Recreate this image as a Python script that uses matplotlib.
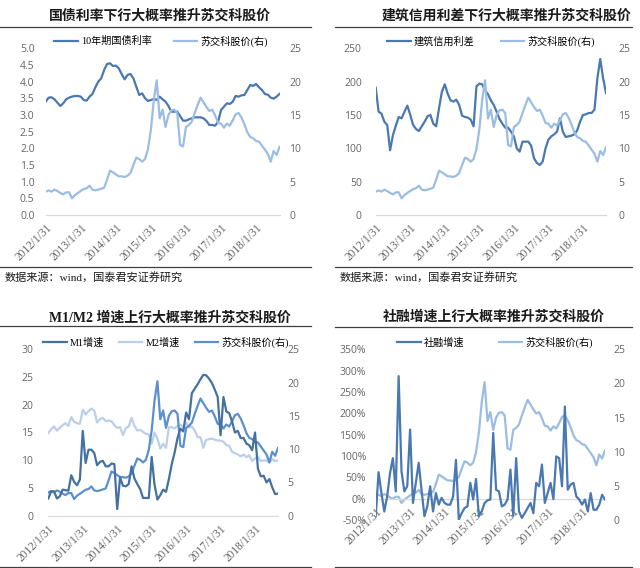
import matplotlib
matplotlib.use("Agg")
import matplotlib.pyplot as plt
from matplotlib.lines import Line2D
from matplotlib.font_manager import FontProperties

# ---- data (monthly, 2012/1 .. 2018/9) ----
tick_pos = [0, 12, 24, 36, 48, 60, 72]
tick_labels = ["2012/1/31", "2013/1/31", "2014/1/31", "2015/1/31",
               "2016/1/31", "2017/1/31", "2018/1/31"]

stock = [3.5, 3.7, 3.5, 3.8, 3.6, 3.3, 3.1, 3.4, 3.4, 2.5,
         3.0, 3.3, 3.6, 3.9, 4.0, 4.4, 3.8, 3.7, 3.8, 3.95,
         4.1, 5.3, 6.65, 6.4, 6.1, 5.8, 5.8, 5.7, 5.9, 6.3,
         7.5, 8.6, 8.4, 8.0, 8.4, 9.9, 12.8, 17.3, 20.2, 14.5,
         15.8, 13.2, 15.0, 15.7, 15.8, 15.3, 10.5, 10.3, 13.2, 13.5,
         14.0, 15.3, 16.5, 17.6, 16.9, 16.2, 15.6, 15.8, 14.9, 13.8,
         13.7, 13.1, 13.7, 13.4, 14.2, 15.1, 15.3, 14.6, 13.6, 12.4,
         11.7, 11.5, 11.1, 11.0, 10.4, 9.8, 9.2, 8.0, 9.6, 9.0, 10.2]

bond10y = [3.4, 3.52, 3.53, 3.47, 3.37, 3.27, 3.35, 3.47, 3.52, 3.55,
           3.57, 3.57, 3.55, 3.45, 3.43, 3.55, 3.63, 3.83, 4.0, 4.1,
           4.35, 4.53, 4.55, 4.47, 4.48, 4.4, 4.23, 4.07, 4.2, 4.23,
           4.1, 3.85, 3.6, 3.65, 3.5, 3.42, 3.45, 3.48, 3.45, 3.55,
           3.47, 3.4, 3.27, 3.1, 3.1, 3.1, 2.97, 2.83, 2.83, 2.87,
           2.9, 2.93, 2.93, 2.93, 2.9, 2.82, 2.7, 2.7, 2.68, 2.8,
           3.15, 3.25, 3.35, 3.33, 3.4, 3.57, 3.55, 3.59, 3.6, 3.75,
           3.9, 3.87, 3.93, 3.83, 3.75, 3.63, 3.61, 3.52, 3.49, 3.55, 3.63]

spread = [191, 155, 152, 140, 135, 97, 120, 134, 147, 145,
          155, 164, 150, 135, 129, 126, 133, 140, 148, 150,
          137, 133, 160, 185, 196, 182, 172, 170, 173, 165,
          149, 147, 146, 143, 133, 193, 197, 196, 187, 181,
          172, 165, 155, 144, 137, 131, 131, 125, 118, 100,
          95, 110, 110, 110, 104, 85, 78, 75, 80, 100,
          113, 118, 121, 125, 145, 125, 117, 118, 119, 121,
          127, 140, 150, 151, 153, 153, 158, 205, 234, 205, 183]

m1 = [3.1, 4.4, 4.4, 3.1, 3.5, 4.7, 4.6, 4.5, 7.3, 6.1, 5.5, 6.5,
      15.3, 9.5, 11.9, 11.9, 11.3, 9.1, 9.7, 9.9, 8.9, 8.9, 9.4, 9.3,
      1.2, 6.9, 5.4, 5.3, 5.7, 8.9, 6.7, 5.7, 4.8, 3.2, 3.2, 3.2,
      10.6, 5.6, 2.9, 3.7, 4.7, 4.3, 6.6, 9.3, 11.4, 14.0, 15.7, 15.2,
      18.6, 17.4, 22.1, 22.9, 23.7, 24.6, 25.4, 25.3, 24.7, 23.9, 22.7, 21.4,
      14.5, 21.4, 18.8, 18.5, 17.0, 15.0, 15.3, 14.0, 14.0, 13.0, 12.7, 11.8,
      15.0, 8.5, 7.1, 7.2, 6.0, 6.6, 5.1, 3.9, 4.0]

m2 = [12.4, 13.0, 13.4, 12.8, 13.2, 13.6, 13.9, 13.5, 14.8, 14.1, 13.9, 13.8,
      15.9, 15.2, 15.7, 16.1, 15.8, 14.0, 14.5, 14.7, 14.2, 14.3, 14.2, 13.6,
      13.2, 13.3, 12.1, 13.2, 13.4, 14.7, 13.5, 12.8, 12.9, 12.6, 12.3, 12.2,
      10.8, 12.5, 11.6, 10.1, 10.8, 10.2, 13.3, 13.3, 13.1, 13.5, 13.7, 13.3,
      14.0, 13.3, 13.4, 12.8, 11.8, 11.8, 10.2, 11.4, 11.5, 11.6, 11.4, 11.3,
      11.3, 11.1, 10.6, 10.5, 9.6, 9.4, 9.2, 8.9, 9.2, 8.8, 9.1, 8.2,
      8.6, 8.8, 8.2, 8.3, 8.3, 8.0, 8.5, 8.2, 8.3]

tsf = [-41, 62, 13, -30, 5, 60, 95, 17, 287, 64,
       17, 29, 162, -10, 37, 84, 20, -41, -18, 29,
       -30, 13, -14, 2, -10, -14, -14, 5, 91, -49,
       -34, -22, -18, 37, -2, 46, -41, -30, -10, -4,
       -2, 154, 21, 17, -18, -14, -2, 68, -40, 95,
       -30, -45, -34, -22, -10, -34, 37, 29, 80, -10,
       13, 37, -1, 99, 95, 29, 216, 21, 33, 37,
       5, -2, -14, -2, -30, 13, -26, -26, -14, 9, -2]

x = list(range(len(stock)))

W, H = 640, 568
DARK = "#4a78b0"
LIGHT = "#9bbde3"
M1C = "#44719f"
M2C = "#bccfea"
MIDC = "#5b8fcf"
TICKC = "#666666"
CJK = ["Liberation Serif", "Noto Sans CJK SC"]
NUMFONT = "Open Sans"

fig = plt.figure(figsize=(W / 100, H / 100), dpi=100)
fig.patch.set_facecolor("white")


def px_axes(left, top, right, bottom):
    return fig.add_axes([left / W, 1 - bottom / H, (right - left) / W, (bottom - top) / H])


def rule(x0, x1, y):
    fig.add_artist(Line2D([x0 / W, x1 / W], [1 - y / H, 1 - y / H],
                          color="#404040", lw=0.9))


def style(ax, ax2, lpad, rpad, zero_axis=False):
    for a in (ax, ax2):
        for s in a.spines.values():
            s.set_visible(False)
    ax.spines["bottom"].set_visible(True)
    ax.spines["bottom"].set_color("#d9d9d9")
    ax.spines["bottom"].set_linewidth(0.9)
    if zero_axis:
        ax.spines["bottom"].set_position(("data", 0))
    ax.set_xlim(0, len(x) - 1)
    ax.set_xticks(tick_pos)
    ax.set_xticklabels(tick_labels, rotation=45, ha="right", va="top",
                       rotation_mode="anchor", family="Liberation Serif",
                       fontsize=8.3, color=TICKC)
    ax.tick_params(axis="x", length=0, pad=5)
    ax.tick_params(axis="y", length=0, pad=lpad, labelsize=7.5, labelcolor=TICKC)
    ax2.tick_params(axis="y", length=0, pad=rpad, labelsize=7.5, labelcolor=TICKC)
    for lab in ax.get_yticklabels() + ax2.get_yticklabels():
        lab.set_family(NUMFONT)
    ax2.set_ylim(0, 25)
    ax2.set_yticks([0, 5, 10, 15, 20, 25])
    for lab in ax2.get_yticklabels():
        lab.set_family(NUMFONT)


def legend(handles, cx, cy, colsp):
    fig.legend(handles=handles, loc="center", bbox_to_anchor=(cx / W, 1 - cy / H),
               ncol=len(handles), frameon=False, handlelength=2.3, handletextpad=0.3,
               columnspacing=colsp, prop=FontProperties(family=CJK, size=7.3))


def title(text, cx, cy):
    fig.text(cx / W, 1 - cy / H, text, ha="center", va="center", fontsize=10,
             fontweight="bold", family=CJK, color="#1a1a1a")


def source(x0, y):
    fig.text(x0 / W, 1 - y / H, "数据来源：wind，国泰君安证券研究", fontsize=8,
             family=CJK, va="center", color="#1a1a1a")


# ---- chart 1: 10y bond yield ----
ax = px_axes(45.7, 48.3, 279.5, 215)
ax2 = ax.twinx()
h1, = ax.plot(x, bond10y, color=DARK, lw=1.6, label="10年期国债利率")
h2, = ax2.plot(x, stock, color=LIGHT, lw=1.6, label="苏交科股价(右)")
ax.set_ylim(0, 5)
ax.set_yticks([i * 0.5 for i in range(11)])
ax.set_yticklabels([f"{i * 0.5:.1f}" for i in range(11)])
style(ax, ax2, 8, 7)
title("国债利率下行大概率推升苏交科股价", 160, 16)
rule(0, 311, 26.7)
rule(0, 311, 266.7)
legend([h1, h2], 161, 41, 2.2)
source(5, 277)

# ---- chart 2: construction credit spread ----
ax = px_axes(375.7, 48.3, 606, 215)
ax2 = ax.twinx()
h1, = ax.plot(x, spread, color=DARK, lw=1.6, label="建筑信用利差")
h2, = ax2.plot(x, stock, color=LIGHT, lw=1.6, label="苏交科股价(右)")
ax.set_ylim(0, 250)
ax.set_yticks([0, 50, 100, 150, 200, 250])
style(ax, ax2, 10, 9)
title("建筑信用利差下行大概率推升苏交科股价", 507, 16)
rule(335, 632, 27.3)
rule(335, 632, 267)
legend([h1, h2], 491, 41, 2.6)
source(340, 277)

# ---- chart 3: M1 / M2 ----
ax = px_axes(48.3, 349.3, 278, 515.7)
ax2 = ax.twinx()
h1, = ax.plot(x, m1, color=M1C, lw=1.6, label="M1增速", zorder=3)
h2, = ax2.plot(x, m2, color=M2C, lw=1.6, label="M2增速", zorder=1)
h3, = ax2.plot(x, stock, color=MIDC, lw=1.6, label="苏交科股价(右)", zorder=2)
ax.set_zorder(ax2.get_zorder() + 1)
ax.patch.set_visible(False)
ax.set_ylim(0, 30)
ax.set_yticks([0, 5, 10, 15, 20, 25, 30])
style(ax, ax2, 11, 7)
title("M1/M2 增速上行大概率推升苏交科股价", 170, 318)
rule(0, 311, 326)
rule(0, 311, 566.7)
legend([h1, h2, h3], 166, 342, 1.5)

# ---- chart 4: social financing ----
ax = px_axes(375.7, 349.3, 605, 520)
ax2 = ax.twinx()
h1, = ax.plot(x, tsf, color=DARK, lw=1.6, label="社融增速", zorder=3)
h2, = ax2.plot(x, stock, color=LIGHT, lw=1.6, label="苏交科股价(右)")
ax.set_zorder(ax2.get_zorder() + 1)
ax.patch.set_visible(False)
ax.set_ylim(-50, 350)
ax.set_yticks(list(range(-50, 351, 50)))
ax.set_yticklabels([f"{v}%" for v in range(-50, 351, 50)])
style(ax, ax2, 7, 6, zero_axis=True)
title("社融增速上行大概率推升苏交科股价", 494, 317)
rule(335, 632, 326.7)
rule(335, 632, 566.7)
legend([h1, h2], 495, 342, 3.4)

fig.savefig("out.png", dpi=100, facecolor="white")
